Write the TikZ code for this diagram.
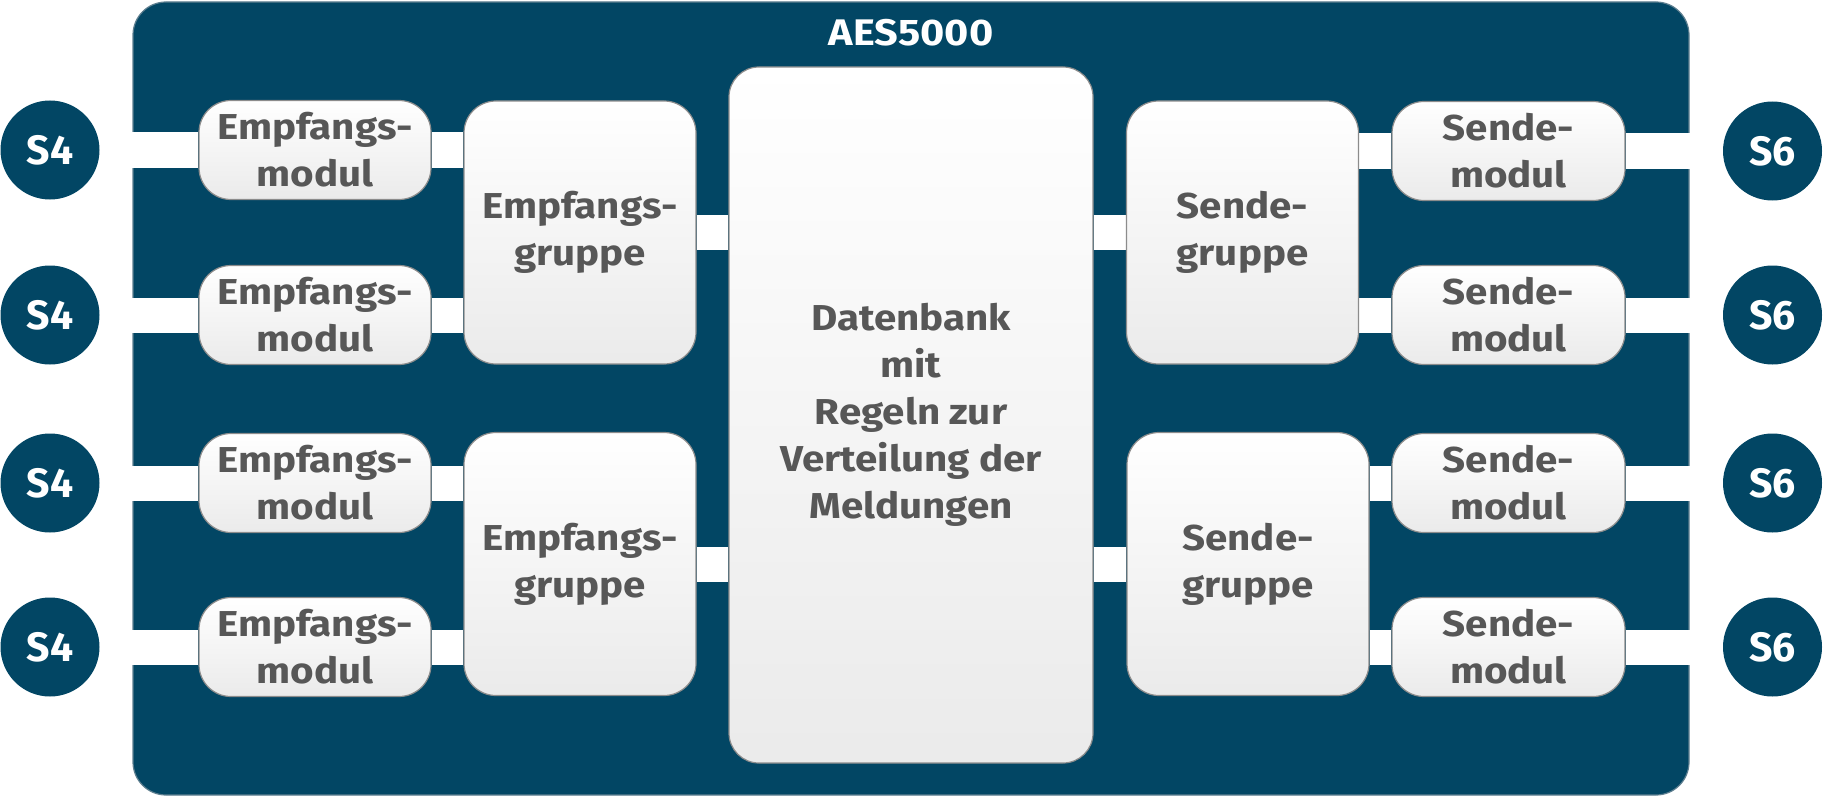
\documentclass[tikz,border=0pt]{standalone}
\usepackage{fontspec}
\setmainfont{Fira Sans}
\newfontfamily\boxfont{Fira Sans}[FakeStretch=1.12]
\definecolor{aesblue}{HTML}{024664}
\definecolor{aesedge}{HTML}{5E7F90}
\definecolor{txtgray}{HTML}{575757}
\definecolor{edgegray}{HTML}{8C8C8C}
\pgfdeclarelayer{back}
\pgfdeclarelayer{bars}
\pgfsetlayers{back,bars,main}
\tikzset{
  box/.style={draw=edgegray, line width=1.2pt, rounded corners=32pt, top color=white, bottom color=black!8,
    text=txtgray, font=\boxfont\fontsize{36}{47}\selectfont\bfseries, align=center, inner sep=0pt},
  modbox/.style={box, minimum width=232pt, minimum height=99pt},
  grpbox/.style={box, minimum width=232pt, minimum height=263pt},
  stn/.style={circle, fill=aesblue, minimum size=99pt, inner sep=0pt, text=white,
    font=\fontsize{41}{41}\selectfont\bfseries},
  bar/.style={draw=white, line width=35pt},
}
\begin{document}
\begin{tikzpicture}[x=1pt,y=-1pt]
\useasboundingbox (0,0) rectangle (1823,797);
\begin{pgfonlayer}{back}
  \node[draw=aesedge, line width=1.2pt, fill=aesblue, rounded corners=33pt, minimum width=1556pt, minimum height=793pt, inner sep=0pt] (aes) at (911,398.5) {};
\end{pgfonlayer}
\node[text=white, font=\boxfont\fontsize{37}{37}\selectfont\bfseries, inner sep=0pt] (title) at (911,32.5) {AES5000};
% left stations
\node[stn] (s1) at (50,150) {S4};
\node[stn] (s2) at (50,315) {S4};
\node[stn] (s3) at (50,483) {S4};
\node[stn] (s4) at (50,647) {S4};
% receive modules
\node[modbox] (em1) at (315,150) {Empfangs-\\modul};
\node[modbox] (em2) at (315,315) {Empfangs-\\modul};
\node[modbox] (em3) at (315,483) {Empfangs-\\modul};
\node[modbox] (em4) at (315,647) {Empfangs-\\modul};
% receive groups
\node[grpbox] (eg1) at (580,232.5) {Empfangs-\\gruppe};
\node[grpbox] (eg2) at (580,564) {Empfangs-\\gruppe};
% database
\node[box, rounded corners=30pt, minimum width=364pt, minimum height=696pt] (db) at (911,415) {Datenbank\\mit\\Regeln zur\\Verteilung der\\Meldungen};
% send groups
\node[grpbox] (sg1) at (1242.5,232.5) {Sende-\\gruppe};
\node[grpbox, minimum width=242pt] (sg2) at (1248,564) {Sende-\\gruppe};
% send modules
\node[modbox, minimum width=233pt] (sm1) at (1508.5,151) {Sende-\\modul};
\node[modbox, minimum width=233pt] (sm2) at (1508.5,315) {Sende-\\modul};
\node[modbox, minimum width=233pt] (sm3) at (1508.5,483) {Sende-\\modul};
\node[modbox, minimum width=233pt] (sm4) at (1508.5,647) {Sende-\\modul};
% right stations
\node[stn] (t1) at (1772.5,151) {S6};
\node[stn] (t2) at (1772.5,315) {S6};
\node[stn] (t3) at (1772.5,483) {S6};
\node[stn] (t4) at (1772.5,647) {S6};
\begin{pgfonlayer}{bars}
  \foreach \i in {1,2,3,4}{
    \draw[bar] (s\i) -- (em\i);
    \draw[bar] (sm\i) -- (t\i);
  }
  \draw[bar] (em1.east) -- (em1.east -| eg1.west);
  \draw[bar] (em2.east) -- (em2.east -| eg1.west);
  \draw[bar] (em3.east) -- (em3.east -| eg2.west);
  \draw[bar] (em4.east) -- (em4.east -| eg2.west);
  \draw[bar] (eg1.east) -- (eg1.east -| db.west);
  \draw[bar] (eg2.east) -- (eg2.east -| db.west);
  \draw[bar] (sg1.west -| db.east) -- (sg1.west);
  \draw[bar] (sg2.west -| db.east) -- (sg2.west);
  \draw[bar] (sm1.west -| sg1.east) -- (sm1.west);
  \draw[bar] (sm2.west -| sg1.east) -- (sm2.west);
  \draw[bar] (sm3.west -| sg2.east) -- (sm3.west);
  \draw[bar] (sm4.west -| sg2.east) -- (sm4.west);
\end{pgfonlayer}
\end{tikzpicture}
\end{document}
